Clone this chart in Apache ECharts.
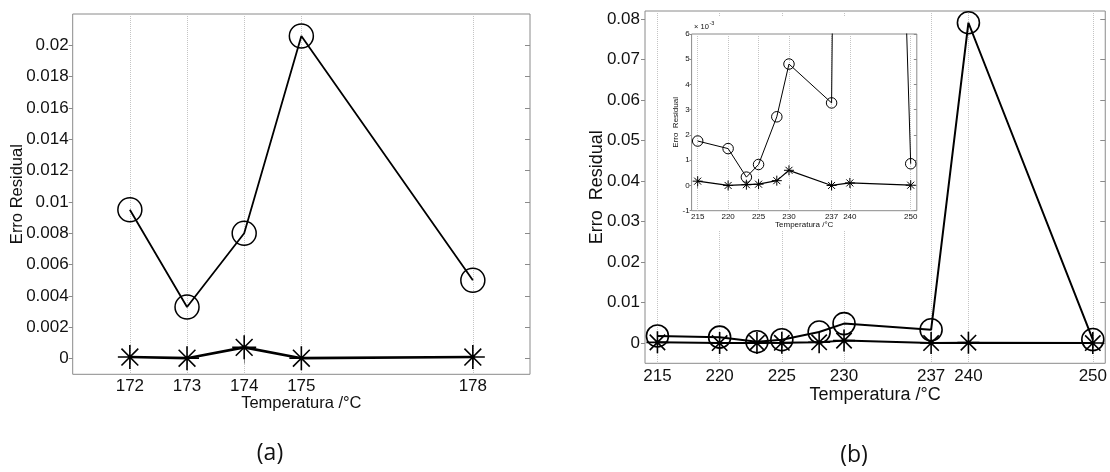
<!DOCTYPE html>
<html><head><meta charset="utf-8">
<script src="https://cdn.jsdelivr.net/npm/echarts@6/dist/echarts.min.js"></script>
<style>html,body{margin:0;padding:0;background:#fff}#c{width:1110px;height:472px}</style>
</head><body><div id="c"></div>
<script>
// ---- Chart (a) ----
const tempsA   = [172, 173, 174, 175, 178];
const circlesA = [0.0095, 0.0033, 0.0080, 0.0206, 0.0050];
const starsA   = [0.0001, 0.00003, 0.00072, 0.00003, 0.0001];
const xTicksA  = [172, 173, 174, 175, 178];
const yTicksA  = [0, 0.002, 0.004, 0.006, 0.008, 0.01, 0.012, 0.014, 0.016, 0.018, 0.02];

// ---- Chart (b) ----
const tempsB   = [215, 220, 223, 225, 228, 230, 237, 240, 250];
const circlesB = [0.00176, 0.00146, 0.00033, 0.00083, 0.00272, 0.00481, 0.00327, 0.0791, 0.00086];
const starsB   = [0.00017, 0.0, 0.00003, 0.00005, 0.00019, 0.0006, 0.0, 0.0001, 0.00001];
const xTicksB  = [215, 220, 225, 230, 237, 240, 250];
const yTicksB  = [0, 0.01, 0.02, 0.03, 0.04, 0.05, 0.06, 0.07, 0.08];
const yTicksInset = [-0.001, 0, 0.001, 0.002, 0.003, 0.004, 0.005, 0.006];

const xName = 'Temperatura /°C';
const yNameA = 'Erro Residual';
const yNameB = 'Erro  Residual';

const pairs = (xs, ys) => xs.map((x, i) => [x, ys[i]]);
const STAR = 'path://M10,0L10,20M0,10L20,10M3,3L17,17M3,17L17,3';
const FONT = 'Liberation Sans, Arial, sans-serif';
const BOX = '#8a8a8a';

function axes(gi, o) {
  const z = o.z || 0;
  const xs = [
    { type: 'value', gridIndex: gi, position: 'bottom', min: o.xMin, max: o.xMax, z,
      axisLine: { show: false },
      axisTick: { show: false, customValues: o.xTicks },
      axisLabel: { customValues: o.xTicks, fontSize: o.fs, color: '#111', fontFamily: FONT, margin: o.lm },
      splitLine: { show: true, lineStyle: { type: 'dotted', color: '#c4c4c4', width: 1 } },
      name: xName, nameLocation: 'middle', nameGap: o.xGap, nameMoveOverlap: false,
      nameTextStyle: { fontSize: o.nfs, color: '#111', fontFamily: FONT } },
    { type: 'value', gridIndex: gi, position: 'top', min: o.xMin, max: o.xMax, z,
      axisLine: { show: false },
      axisTick: { show: true, inside: true, length: o.tl, customValues: o.xTicks, lineStyle: { color: BOX } },
      axisLabel: { show: false }, splitLine: { show: false } }
  ];
  const ys = [
    { type: 'value', gridIndex: gi, position: 'left', min: o.yMin, max: o.yMax, z,
      axisLine: { show: false },
      axisTick: { show: true, inside: false, length: o.tl - 1, customValues: o.yTicks, lineStyle: { color: BOX } },
      axisLabel: { customValues: o.yTicks, fontSize: o.fs, color: '#111', fontFamily: FONT, margin: o.lm,
                   formatter: o.yFmt || (v => String(v)) },
      splitLine: { show: false },
      name: o.yName, nameLocation: 'middle', nameGap: o.yGap, nameMoveOverlap: false,
      nameTextStyle: { fontSize: o.nfs, color: '#111', fontFamily: FONT } },
    { type: 'value', gridIndex: gi, position: 'right', min: o.yMin, max: o.yMax, z,
      axisLine: { show: false },
      axisTick: { show: true, inside: true, length: o.tl, customValues: o.yTicks, lineStyle: { color: BOX } },
      axisLabel: { show: false }, splitLine: { show: false } }
  ];
  return { xs, ys };
}

const aA = axes(0, { xMin: 171, xMax: 179, yMin: -0.001, yMax: 0.022, xTicks: xTicksA, yTicks: yTicksA,
  fs: 17, nfs: 16.5, lm: 4, tl: 5, xGap: 21, yGap: 47, yName: yNameA });
const aB = axes(1, { xMin: 214, xMax: 251, yMin: -0.005, yMax: 0.082, xTicks: xTicksB, yTicks: yTicksB,
  fs: 17, nfs: 18, lm: 5, tl: 5, xGap: 23, yGap: 39, yName: yNameB });
const aI = axes(2, { xMin: 214, xMax: 251, yMin: -0.001, yMax: 0.006, xTicks: xTicksB, yTicks: yTicksInset,
  fs: 8, nfs: 8, lm: 2, tl: 3, xGap: 10, yGap: 12, yName: yNameB, z: 6,
  yFmt: v => String(Math.round(v * 1000)) });

function lineSeries(xi, yi, data, sym, size, lw, bw, z) {
  return {
    type: 'line', xAxisIndex: xi, yAxisIndex: yi, data, symbol: sym, symbolSize: size,
    showSymbol: true, clip: true, animation: false, z: z || 2,
    lineStyle: { color: '#000', width: lw },
    itemStyle: { color: 'rgba(0,0,0,0)', borderColor: '#000', borderWidth: bw },
    emphasis: { disabled: true }
  };
}

const option = {
  animation: false,
  backgroundColor: '#fff',
  grid: [
    { left: 72.7, top: 14, width: 457.3, height: 360.3, show: true, borderColor: BOX, borderWidth: 1, backgroundColor: 'transparent' },
    { left: 645, top: 11, width: 464, height: 352.3, show: true, borderColor: BOX, borderWidth: 1, backgroundColor: 'transparent' },
    { left: 691.6, top: 34, width: 225.2, height: 176.7, show: true, borderColor: BOX, borderWidth: 1, backgroundColor: '#fff', z: 6 }
  ],
  xAxis: [...aA.xs, ...aB.xs, ...aI.xs],
  yAxis: [...aA.ys, ...aB.ys, ...aI.ys],
  series: [
    lineSeries(0, 0, pairs(tempsA, circlesA), 'circle', 24, 1.8, 1.5),
    lineSeries(0, 0, pairs(tempsA, starsA), STAR, 24, 2.6, 1.6),
    lineSeries(2, 2, pairs(tempsB, circlesB), 'circle', 22, 2, 1.6),
    lineSeries(2, 2, pairs(tempsB, starsB), STAR, 22, 2, 1.6),
    lineSeries(4, 4, pairs(tempsB, circlesB), 'circle', 10.5, 1, 1, 7),
    lineSeries(4, 4, pairs(tempsB, starsB), STAR, 10, 1.2, 1, 7)
  ],
  graphic: [
    { type: 'rect', z: 5, shape: { x: 662, y: 17, width: 265, height: 213 }, style: { fill: '#fff' } },
    { type: 'text', z: 8, x: 694, y: 23, style: { text: '× 10', fontSize: 7.5, fill: '#111', fontFamily: FONT } },
    { type: 'text', z: 8, x: 709.5, y: 20, style: { text: '-3', fontSize: 5.5, fill: '#111', fontFamily: FONT } },
    { type: 'text', z: 8, x: 270, y: 453, style: { text: '(a)', fontSize: 23, fill: '#111', fontFamily: 'Open Sans, sans-serif', align: 'center', verticalAlign: 'middle' } },
    { type: 'text', z: 8, x: 854, y: 455, style: { text: '(b)', fontSize: 23, fill: '#111', fontFamily: 'Open Sans, sans-serif', align: 'center', verticalAlign: 'middle' } }
  ]
};
const chart = echarts.init(document.getElementById('c'), null, { renderer: 'canvas' });
chart.setOption(option);
</script></body></html>
